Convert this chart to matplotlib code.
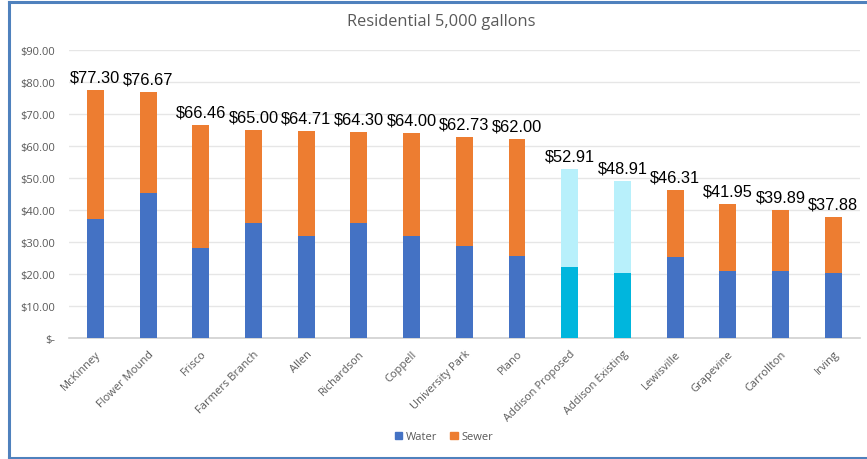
import matplotlib
matplotlib.use("Agg")
import matplotlib.pyplot as plt
from matplotlib.patches import Patch
from matplotlib.lines import Line2D

cities = ["McKinney", "Flower Mound", "Frisco", "Farmers Branch", "Allen",
          "Richardson", "Coppell", "University Park", "Plano",
          "Addison Proposed", "Addison Existing", "Lewisville", "Grapevine",
          "Carrollton", "Irving"]
totals = [77.30, 76.67, 66.46, 65.00, 64.71, 64.30, 64.00, 62.73, 62.00,
          52.91, 48.91, 46.31, 41.95, 39.89, 37.88]
water = [37.3, 45.2, 28.2, 35.9, 31.8, 36.1, 31.9, 28.9, 25.8,
         22.2, 20.4, 25.2, 21.1, 21.1, 20.5]
sewer = [t - w for t, w in zip(totals, water)]
highlight = ["Addison Proposed", "Addison Existing"]

yticks = [0, 10, 20, 30, 40, 50, 60, 70, 80, 90]
ytick_labels = ["$-"] + [f"${v:.2f}" for v in yticks[1:]]

WATER = "#4472C4"
SEWER = "#ED7D31"
WATER_HI = "#00B6DD"
SEWER_HI = "#B8F0FB"
GRAY = "#595959"

plt.rcParams["font.family"] = ["Open Sans", "DejaVu Sans"]

fig = plt.figure(figsize=(8.67, 4.60), dpi=100)
ax = fig.add_axes([0.0796, 0.2624, 0.9119, 0.6274])

x = list(range(len(cities)))
wc = [WATER_HI if c in highlight else WATER for c in cities]
sc = [SEWER_HI if c in highlight else SEWER for c in cities]
ax.bar(x, water, width=0.32, color=wc, zorder=3)
ax.bar(x, sewer, width=0.32, bottom=water, color=sc, zorder=3)

for xi, t in zip(x, totals):
    ax.annotate(f"${t:.2f}", (xi, t), xytext=(0, 4), textcoords="offset points",
                ha="center", va="bottom", fontsize=11.8,
                family="Liberation Sans", color="black")

ax.set_xlim(-0.5, len(cities) - 0.5)
ax.set_ylim(0, 90)
ax.set_yticks(yticks)
ax.set_yticklabels(ytick_labels, fontsize=8, color=GRAY)
ax.set_xticks(x)
ax.set_xticklabels(cities, rotation=45, ha="right", rotation_mode="anchor",
                   fontsize=8, color=GRAY)
ax.tick_params(axis="y", length=0, pad=10)
ax.tick_params(axis="x", length=0, pad=7)
ax.grid(axis="y", color="#E6E6E6", linewidth=1, zorder=0)
for s in ["top", "right", "left"]:
    ax.spines[s].set_visible(False)
ax.spines["bottom"].set_color("#D0D0D0")
ax.spines["bottom"].set_linewidth(1.2)

fig.text(0.509, 0.952, "Residential 5,000 gallons", ha="center", va="center",
         fontsize=11.8, color=GRAY)

handles = [Patch(color=WATER, label="Water"), Patch(color=SEWER, label="Sewer")]
fig.legend(handles=handles, loc="center", bbox_to_anchor=(0.512, 0.048),
           ncol=2, frameon=False, fontsize=8, handlelength=0.7,
           handleheight=0.7, handletextpad=0.3, columnspacing=1.2,
           labelcolor=GRAY)

# chart frame
bc = "#4F81BD"
lw = 2.2
fig.add_artist(Line2D([9 / 867, 1.0], [1 - 3 / 460, 1 - 3 / 460],
                      transform=fig.transFigure, color=bc, lw=lw))
fig.add_artist(Line2D([9 / 867, 1.0], [1.5 / 460, 1.5 / 460],
                      transform=fig.transFigure, color=bc, lw=lw))
fig.add_artist(Line2D([9 / 867, 9 / 867], [1.5 / 460, 1 - 3 / 460],
                      transform=fig.transFigure, color=bc, lw=lw))

fig.savefig("out.png", dpi=100)
